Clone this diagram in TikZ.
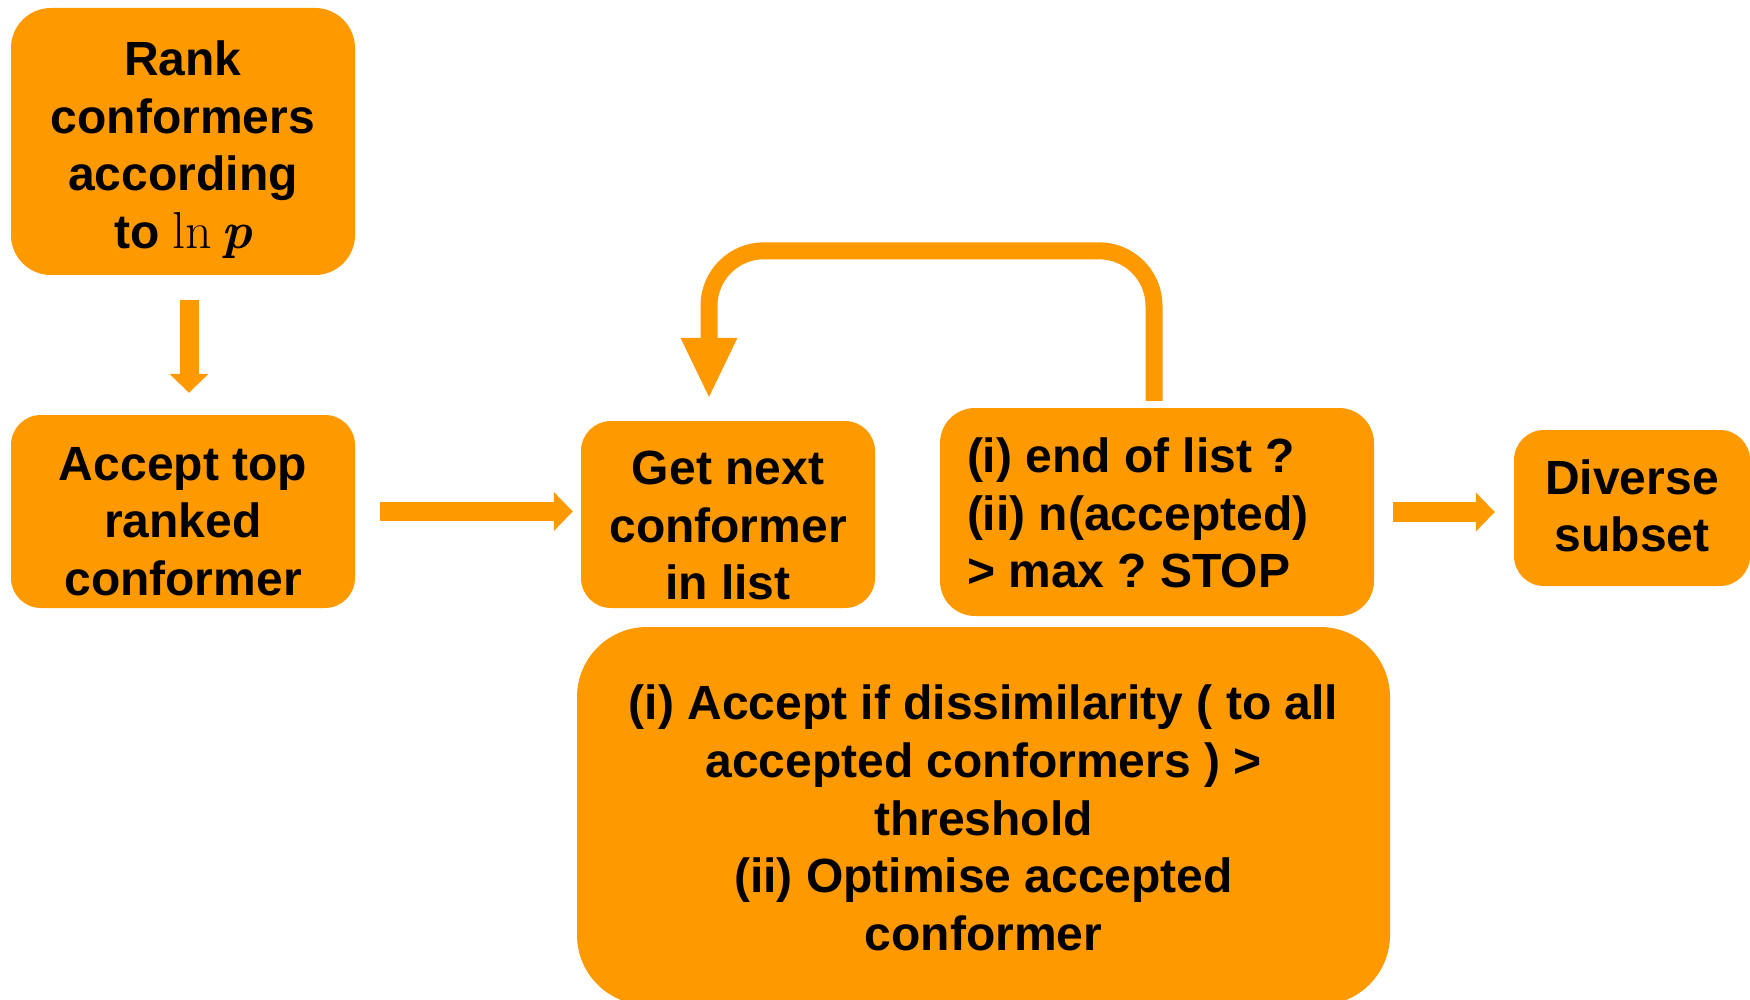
\documentclass[tikz,border=0pt]{standalone}
\usepackage{fontspec}
\setmainfont{Liberation Sans}
\newfontfamily\lmfont{Latin Modern Roman}
\usetikzlibrary{arrows.meta}
\definecolor{boxorange}{RGB}{255,153,0}

\begin{document}
\begin{tikzpicture}[x=1pt,y=-1pt,
  box/.style={fill=boxorange, draw=none, inner sep=0pt},
  txt/.style={align=center, text=black, inner sep=0pt,
    font=\fontsize{48}{57.6}\selectfont\bfseries\frenchspacing},
  fatarrow/.style={draw=boxorange, line width=19pt,
    -{Triangle[length=19pt,width=38pt]}},
  looparrow/.style={draw=boxorange, line width=17pt, rounded corners=55pt,
    -{Triangle[length=61pt,width=52pt]}},
]
\useasboundingbox (0,0) rectangle (1750,1000);

% process boxes
\node[box, rounded corners=40pt, minimum width=344pt, minimum height=267pt] (rank)
  at (183,141.5) {};
\node[box, rounded corners=30pt, minimum width=344pt, minimum height=193pt] (accept)
  at (183,511.5) {};
\node[box, rounded corners=30pt, minimum width=294pt, minimum height=187pt] (getnext)
  at (728,514.5) {};
\node[box, rounded corners=35pt, minimum width=434pt, minimum height=208pt] (endlist)
  at (1157,512) {};
\node[box, rounded corners=30pt, minimum width=236pt, minimum height=156pt] (diverse)
  at (1632,508) {};
\node[box, rounded corners=70pt, minimum width=813pt, minimum height=378pt] (check)
  at (983.5,816) {};

% box texts
\node[txt] (rank-t) at ([yshift=-8pt]rank.center)
  {Rank\\conformers\\according\\to {\lmfont\mdseries\fontsize{52}{57.6}\selectfont ln\,\bfseries\itshape p}};
\node[txt] (accept-t) at ([yshift=-10pt]accept.center) {Accept top\\ranked\\conformer};
\node[txt] (getnext-t) at ([yshift=-11pt]getnext.center) {Get next\\conformer\\in list};
\node[txt, align=left, anchor=west] (endlist-t) at ([xshift=27pt,yshift=-1pt]endlist.west)
  {(i) end of list ?\\(ii) n(accepted)\\> max ? STOP};
\node[txt] (diverse-t) at ([yshift=2pt]diverse.center) {Diverse\\subset};
\node[txt] (check-t) at ([yshift=-2pt]check.center)
  {(i) Accept if dissimilarity ( to all\\accepted conformers ) >\\threshold\\(ii) Optimise accepted\\conformer};

% connectors
\draw[fatarrow, shorten <=25pt, shorten >=22pt]
  ([xshift=6pt]rank.south) -- ([xshift=6pt]accept.north);
\draw[fatarrow, shorten <=25pt, shorten >=8pt]
  (accept.east) -- (accept.east -| getnext.west);
\draw[fatarrow, line width=20pt, shorten <=19pt, shorten >=19pt]
  (endlist.east) -- (endlist.east -| diverse.west);
\draw[looparrow]
  ([xshift=-3pt,yshift=7pt]endlist.north) -- ++(0,-150)
  -| ([xshift=-19pt,yshift=22pt]getnext.north);
\end{tikzpicture}
\end{document}
